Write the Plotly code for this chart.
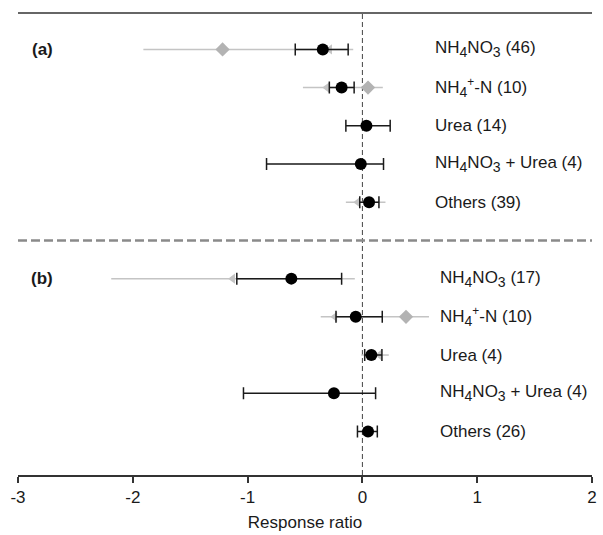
import plotly.graph_objects as go

# ---------------- data ----------------
S4 = "<sub><span style='font-size:14px'>4</span></sub>"
S3 = "<sub><span style='font-size:14px'>3</span></sub>"
labels_a = [f"NH{S4}NO{S3} (46)", f"NH{S4}<sup>+</sup>-N (10)", "Urea (14)",
            f"NH{S4}NO{S3} + Urea (4)", "Others (39)"]
labels_b = [f"NH{S4}NO{S3} (17)", f"NH{S4}<sup>+</sup>-N (10)", "Urea (4)",
            f"NH{S4}NO{S3} + Urea (4)", "Others (26)"]

# black circles (mean, lower, upper)
mean_a = [-0.345, -0.181, 0.035, -0.014, 0.058]
low_a = [-0.585, -0.288, -0.144, -0.835, -0.023]
high_a = [-0.124, -0.072, 0.242, 0.184, 0.144]
mean_b = [-0.619, -0.058, 0.078, -0.248, 0.049]
low_b = [-1.094, -0.230, 0.020, -1.036, -0.043]
high_b = [-0.181, 0.173, 0.170, 0.115, 0.130]

# gray diamonds (row index, mean, lower, upper)
dia_rows = [0, 1, 7]
dia_mean = [-1.218, 0.049, 0.380]
dia_low = [-1.908, -0.518, -0.363]
dia_high = [-0.080, 0.178, 0.580]

# light gray triangles (row index, mean, lower, upper)
tri_rows = [0, 1, 4, 6, 7, 8]
tri_mean = [-0.285, -0.310, -0.040, -1.130, -0.240, 0.147]
tri_low = [-0.285, -0.310, -0.144, -2.188, -0.240, -0.010]
tri_high = [-0.285, -0.310, 0.201, -0.066, -0.240, 0.230]

rows_a = [0, 1, 2, 3, 4]
rows_b = [6, 7, 8, 9, 10]
separator_row = 5

FONT = "Arial, Liberation Sans, sans-serif"
BLACK = "#1a1a1a"
GRAY = "#b3b3b3"
LGRAY = "#c4c4c4"

fig = go.Figure()

# gray diamond series
fig.add_trace(go.Scatter(
    x=dia_mean, y=dia_rows, mode="markers",
    marker=dict(symbol="diamond", size=11, color=GRAY),
    error_x=dict(type="data", symmetric=False,
                 array=[h - m for h, m in zip(dia_high, dia_mean)],
                 arrayminus=[m - l for m, l in zip(dia_mean, dia_low)],
                 color=LGRAY, thickness=1.5, width=0),
    showlegend=False, hoverinfo="skip"))

# light gray triangle series
fig.add_trace(go.Scatter(
    x=tri_mean, y=tri_rows, mode="markers",
    marker=dict(symbol="triangle-left", size=9, color=LGRAY),
    error_x=dict(type="data", symmetric=False,
                 array=[h - m for h, m in zip(tri_high, tri_mean)],
                 arrayminus=[m - l for m, l in zip(tri_mean, tri_low)],
                 color=LGRAY, thickness=1.5, width=0),
    showlegend=False, hoverinfo="skip"))

# black circles
for means, lows, highs, rows in [(mean_a, low_a, high_a, rows_a), (mean_b, low_b, high_b, rows_b)]:
    fig.add_trace(go.Scatter(
        x=means, y=rows, mode="markers",
        marker=dict(symbol="circle", size=12, color="black"),
        error_x=dict(type="data", symmetric=False,
                     array=[h - m for h, m in zip(highs, means)],
                     arrayminus=[m - l for m, l in zip(means, lows)],
                     color=BLACK, thickness=1.5, width=6),
        showlegend=False, hoverinfo="skip"))

annotations = []
for lab, r in zip(labels_a, rows_a):
    annotations.append(dict(x=0.613, y=r, xref="x", yref="y", text=lab, showarrow=False,
                            xanchor="left", yanchor="middle", font=dict(size=17, color=BLACK, family=FONT)))
for lab, r in zip(labels_b, rows_b):
    annotations.append(dict(x=0.655, y=r, xref="x", yref="y", text=lab, showarrow=False,
                            xanchor="left", yanchor="middle", font=dict(size=17, color=BLACK, family=FONT)))
annotations.append(dict(x=-2.79, y=rows_a[0], xref="x", yref="y", text="<b>(a)</b>", showarrow=False,
                        xanchor="center", yanchor="middle", font=dict(size=17, color=BLACK, family=FONT)))
annotations.append(dict(x=-2.79, y=rows_b[0], xref="x", yref="y", text="<b>(b)</b>", showarrow=False,
                        xanchor="center", yanchor="middle", font=dict(size=17, color=BLACK, family=FONT)))

shapes = [
    dict(type="line", xref="paper", yref="paper", x0=0, x1=1, y0=1, y1=1,
         line=dict(color="#333333", width=1.5)),
    dict(type="line", xref="x", yref="paper", x0=0, x1=0, y0=0, y1=1,
         line=dict(color="#444444", width=1, dash="5px,3px"), layer="below"),
    dict(type="line", xref="paper", yref="y", x0=0, x1=1, y0=separator_row, y1=separator_row,
         line=dict(color="#8a8a8a", width=2.5, dash="9px,4px"), layer="below"),
]

fig.update_layout(
    width=603, height=535,
    margin=dict(l=18, r=6, t=13, b=58),
    paper_bgcolor="white", plot_bgcolor="white",
    font=dict(family=FONT, size=17, color=BLACK),
    annotations=annotations, shapes=shapes,
    xaxis=dict(range=[-3, 2], tickvals=[-3, -2, -1, 0, 1, 2], ticktext=["-3", "-2", "-1", "0", "1", "2"],
               showline=True, linecolor="#333333", linewidth=1.5,
               ticks="outside", ticklen=6, tickwidth=1.5, tickcolor="#333333",
               showgrid=False, zeroline=False, tickfont=dict(size=17, color=BLACK),
               title=dict(text="Response ratio", font=dict(size=17, color=BLACK), standoff=10)),
    yaxis=dict(range=[11.14, -0.953], visible=False, showgrid=False, zeroline=False),
)

fig.write_html("out.html", config={"displayModeBar": False},
               post_script="document.body.style.margin='0';document.body.style.overflow='hidden';")
